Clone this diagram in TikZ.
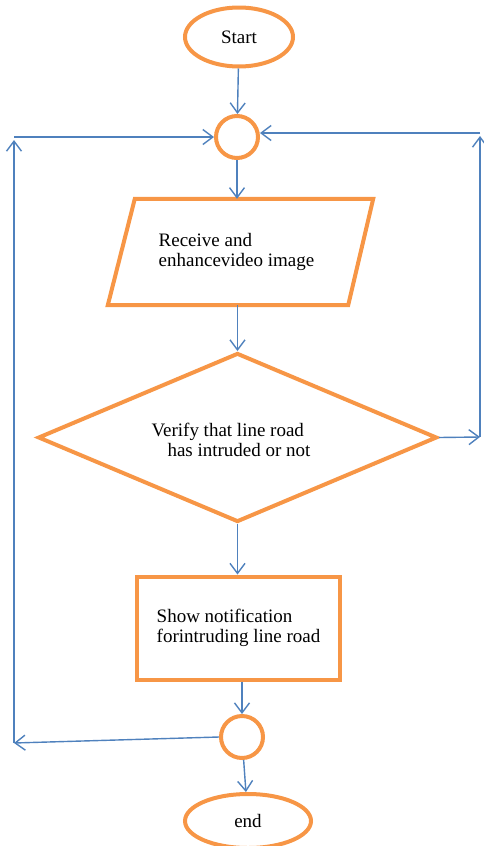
\documentclass[tikz,border=0pt]{standalone}
\usepackage{fontspec}
\setmainfont{Liberation Serif}
\usetikzlibrary{shapes.geometric,arrows.meta}
\definecolor{orangeline}{HTML}{F79646}
\definecolor{blueline}{HTML}{4F81BD}
\tikzset{
  obox/.style={draw=orangeline, line width=4pt},
  txt/.style={font=\fontsize{19}{20.5}\selectfont, align=left, inner sep=0pt},
  arr/.style={draw=blueline, line width=1.4pt, -{Straight Barb[length=10pt,width=15pt]}}
}
\begin{document}
\begin{tikzpicture}[x=1pt,y=-1pt]
    \useasboundingbox (0,0) rectangle (483,846);
    \node[obox, ellipse, minimum width=108pt, minimum height=59pt, txt] (start) at (239,37) {Start};
    \node[obox, circle, minimum size=42pt] (circ1) at (237,137) {};
    \node[txt, minimum width=265pt, minimum height=106pt] (recv) at (236.5,252) {Receive and\\enhancevideo image};
      \draw [obox] ([xshift=31pt]recv.north west) to ([xshift=4pt]recv.north east) to ([xshift=-21pt]recv.south east) to ([xshift=4pt]recv.south west) to cycle;
    \node[obox, diamond, aspect=2.36, minimum width=399pt, minimum height=169pt] (verify) at (237.5,437.5) {};
    \node[txt] (verifytxt) at (231,440) {Verify that line road\\\hspace*{16pt}has intruded or not};
    \node[obox, rectangle, minimum width=203pt, minimum height=103pt, txt] (show) at (238.5,628) {Show notification\\forintruding line road};
    \node[obox, circle, minimum size=42pt] (circ2) at (242,737) {};
    \node[obox, ellipse, minimum width=126pt, minimum height=54pt, txt] (finish) at (248,821) {end};
    % loop corners
    \coordinate (ll) at (14,743);
    \coordinate (lu) at (14,140);
    \coordinate (lt) at (14,137);
    \coordinate (rr) at (480,437);
    \coordinate (ru) at (480,136);
    \coordinate (rt) at (480,133);
    % main flow
      \draw [arr] (start) to (circ1);
      \draw [arr] (circ1.south) to (circ1.south |- recv.north);
      \draw [arr] (recv.south -| verify.north) to (verify.north);
      \draw [arr] (verify.south) to (verify.south |- show.north);
      \draw [arr] (circ2.north |- show.south) to (circ2.north);
      \draw [arr] (circ2) to (finish);
    % loops back
      \draw [arr] (circ2.west) to (ll);
      \draw [arr] (ll) to (lu);
      \draw [arr] (lt) to (circ1.west);
      \draw [arr] (verify.east) to (rr);
      \draw [arr] (rr) to (ru);
      \draw [arr] (rt) to (rt -| circ1.east);
  \end{tikzpicture}
\end{document}
